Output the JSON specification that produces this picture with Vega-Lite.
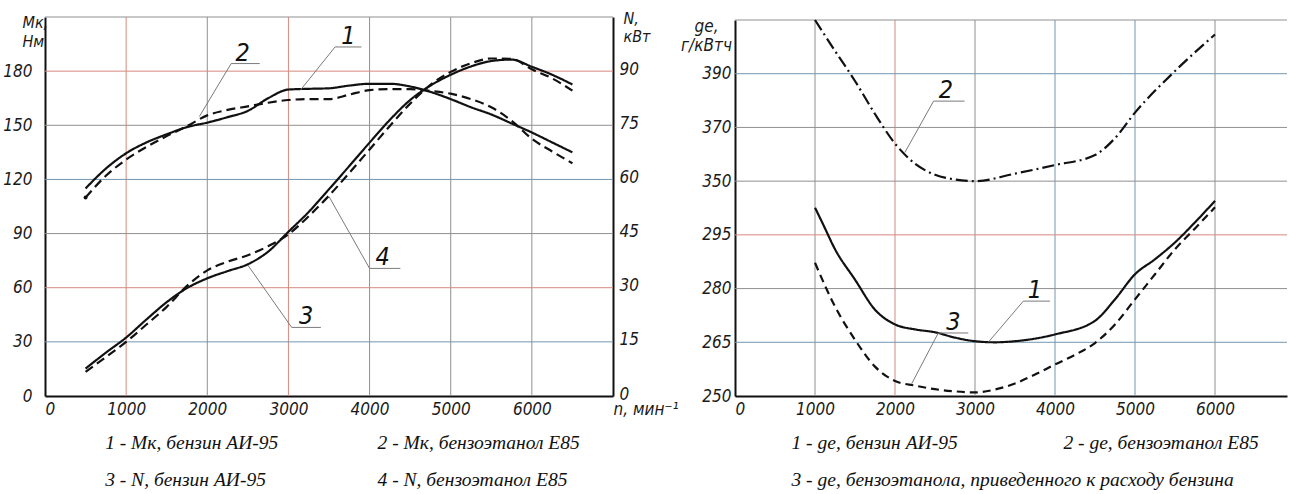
{
  "$schema": "https://vega.github.io/schema/vega-lite/v6.json",
  "background": "white",
  "padding": {"left": 2, "top": 6, "right": 0, "bottom": 0},
  "bounds": "flush",
  "spacing": 122,
  "resolve": {"scale": {"strokeDash": "independent"}},
  "datasets": {
    "mk": [
      {"n":500,"v":115,"c":"1"},{"n":750,"v":126,"c":"1"},{"n":1000,"v":134.5,"c":"1"},{"n":1250,"v":140.5,"c":"1"},{"n":1500,"v":145,"c":"1"},{"n":1750,"v":149,"c":"1"},{"n":2000,"v":151.5,"c":"1"},{"n":2250,"v":154.5,"c":"1"},{"n":2500,"v":158,"c":"1"},{"n":2750,"v":165,"c":"1"},{"n":3000,"v":169.8,"c":"1"},{"n":3250,"v":170.2,"c":"1"},{"n":3500,"v":170.5,"c":"1"},{"n":3750,"v":172,"c":"1"},{"n":4000,"v":173,"c":"1"},{"n":4250,"v":173,"c":"1"},{"n":4500,"v":171.5,"c":"1"},{"n":4750,"v":168.5,"c":"1"},{"n":5000,"v":164.5,"c":"1"},{"n":5250,"v":160,"c":"1"},{"n":5500,"v":156,"c":"1"},{"n":5750,"v":151,"c":"1"},{"n":6000,"v":146,"c":"1"},{"n":6250,"v":140.5,"c":"1"},{"n":6500,"v":135,"c":"1"},
      {"n":500,"v":110,"c":"2"},{"n":750,"v":122,"c":"2"},{"n":1000,"v":131,"c":"2"},{"n":1250,"v":138,"c":"2"},{"n":1500,"v":144,"c":"2"},{"n":1750,"v":149.5,"c":"2"},{"n":2000,"v":155.5,"c":"2"},{"n":2250,"v":158.5,"c":"2"},{"n":2500,"v":160.5,"c":"2"},{"n":2750,"v":162.5,"c":"2"},{"n":3000,"v":164,"c":"2"},{"n":3250,"v":164.5,"c":"2"},{"n":3500,"v":164.5,"c":"2"},{"n":3750,"v":167,"c":"2"},{"n":4000,"v":169.5,"c":"2"},{"n":4250,"v":170,"c":"2"},{"n":4500,"v":170,"c":"2"},{"n":4750,"v":169,"c":"2"},{"n":5000,"v":167.5,"c":"2"},{"n":5250,"v":164.5,"c":"2"},{"n":5500,"v":160,"c":"2"},{"n":5750,"v":152.5,"c":"2"},{"n":6000,"v":142.5,"c":"2"},{"n":6250,"v":135.5,"c":"2"},{"n":6500,"v":129,"c":"2"}
    ],
    "pw": [
      {"n":500,"v":7.6,"c":"3"},{"n":750,"v":12,"c":"3"},{"n":1000,"v":16.2,"c":"3"},{"n":1250,"v":21.2,"c":"3"},{"n":1500,"v":26,"c":"3"},{"n":1750,"v":29.9,"c":"3"},{"n":2000,"v":32.6,"c":"3"},{"n":2250,"v":34.6,"c":"3"},{"n":2500,"v":36.5,"c":"3"},{"n":2750,"v":40,"c":"3"},{"n":3000,"v":45.5,"c":"3"},{"n":3250,"v":51,"c":"3"},{"n":3500,"v":57.3,"c":"3"},{"n":3750,"v":63.7,"c":"3"},{"n":4000,"v":70.2,"c":"3"},{"n":4250,"v":76.5,"c":"3"},{"n":4500,"v":82,"c":"3"},{"n":4750,"v":86,"c":"3"},{"n":5000,"v":89,"c":"3"},{"n":5250,"v":91.3,"c":"3"},{"n":5500,"v":92.8,"c":"3"},{"n":5750,"v":93.2,"c":"3"},{"n":6000,"v":91.2,"c":"3"},{"n":6250,"v":89,"c":"3"},{"n":6500,"v":86.3,"c":"3"},
      {"n":500,"v":6.7,"c":"4"},{"n":750,"v":10.8,"c":"4"},{"n":1000,"v":15,"c":"4"},{"n":1250,"v":19.8,"c":"4"},{"n":1500,"v":24.7,"c":"4"},{"n":1750,"v":30.5,"c":"4"},{"n":2000,"v":34.8,"c":"4"},{"n":2250,"v":37.2,"c":"4"},{"n":2500,"v":39,"c":"4"},{"n":2750,"v":41.5,"c":"4"},{"n":3000,"v":44.8,"c":"4"},{"n":3250,"v":49.8,"c":"4"},{"n":3500,"v":55.5,"c":"4"},{"n":3750,"v":61.8,"c":"4"},{"n":4000,"v":68.3,"c":"4"},{"n":4250,"v":74.8,"c":"4"},{"n":4500,"v":81,"c":"4"},{"n":4750,"v":86.2,"c":"4"},{"n":5000,"v":89.8,"c":"4"},{"n":5250,"v":92.2,"c":"4"},{"n":5500,"v":93.5,"c":"4"},{"n":5750,"v":93.4,"c":"4"},{"n":6000,"v":90.5,"c":"4"},{"n":6250,"v":88,"c":"4"},{"n":6500,"v":84.6,"c":"4"}
    ],
    "ge": [
      {"n":1000,"v":302.6,"c":"g1"},{"n":1100,"v":298,"c":"g1"},{"n":1250,"v":291,"c":"g1"},{"n":1500,"v":282.5,"c":"g1"},{"n":1750,"v":274.1,"c":"g1"},{"n":2000,"v":270,"c":"g1"},{"n":2250,"v":268.6,"c":"g1"},{"n":2500,"v":267.8,"c":"g1"},{"n":2750,"v":266.3,"c":"g1"},{"n":3000,"v":265.3,"c":"g1"},{"n":3250,"v":265,"c":"g1"},{"n":3500,"v":265.3,"c":"g1"},{"n":4000,"v":267.2,"c":"g1"},{"n":4500,"v":271,"c":"g1"},{"n":4750,"v":277,"c":"g1"},{"n":5000,"v":284,"c":"g1"},{"n":5250,"v":288.2,"c":"g1"},{"n":5500,"v":292.9,"c":"g1"},{"n":5750,"v":298.5,"c":"g1"},{"n":6000,"v":304.5,"c":"g1"},
      {"n":1000,"v":410,"c":"g2"},{"n":1250,"v":398.5,"c":"g2"},{"n":1500,"v":387.3,"c":"g2"},{"n":1750,"v":375,"c":"g2"},{"n":2000,"v":364,"c":"g2"},{"n":2250,"v":356.5,"c":"g2"},{"n":2500,"v":352.4,"c":"g2"},{"n":2750,"v":350.6,"c":"g2"},{"n":3000,"v":350,"c":"g2"},{"n":3500,"v":352.8,"c":"g2"},{"n":4000,"v":356,"c":"g2"},{"n":4500,"v":359.7,"c":"g2"},{"n":4750,"v":366,"c":"g2"},{"n":5000,"v":375.5,"c":"g2"},{"n":5500,"v":391,"c":"g2"},{"n":6000,"v":404.6,"c":"g2"},
      {"n":1000,"v":287.2,"c":"g3"},{"n":1250,"v":275,"c":"g3"},{"n":1500,"v":265.7,"c":"g3"},{"n":1750,"v":258.2,"c":"g3"},{"n":2000,"v":254.2,"c":"g3"},{"n":2250,"v":252.9,"c":"g3"},{"n":2500,"v":251.9,"c":"g3"},{"n":2750,"v":251.3,"c":"g3"},{"n":3000,"v":251,"c":"g3"},{"n":3250,"v":251.8,"c":"g3"},{"n":3500,"v":253.5,"c":"g3"},{"n":3750,"v":256,"c":"g3"},{"n":4000,"v":258.8,"c":"g3"},{"n":4250,"v":261.5,"c":"g3"},{"n":4500,"v":264.8,"c":"g3"},{"n":4750,"v":270,"c":"g3"},{"n":5000,"v":277,"c":"g3"},{"n":5250,"v":284,"c":"g3"},{"n":5500,"v":291,"c":"g3"},{"n":5750,"v":296.8,"c":"g3"},{"n":6000,"v":302.7,"c":"g3"}
    ],
    "gxL": [{"n":1000,"k":"r"},{"n":2000,"k":"g"},{"n":3000,"k":"r"},{"n":4000,"k":"g"},{"n":5000,"k":"g"},{"n":6000,"k":"g"}],
    "gyL": [{"v":30,"k":"b"},{"v":60,"k":"r"},{"v":90,"k":"g"},{"v":120,"k":"b"},{"v":150,"k":"g"},{"v":180,"k":"r"},{"v":210,"k":"g"}],
    "gxR": [{"n":1000,"k":"g"},{"n":2000,"k":"r"},{"n":3000,"k":"g"},{"n":4000,"k":"b"},{"n":5000,"k":"b"},{"n":6000,"k":"g"}],
    "gyR": [{"v":265,"k":"b"},{"v":280,"k":"g"},{"v":295,"k":"r"},{"v":350,"k":"g"},{"v":370,"k":"g"},{"v":390,"k":"b"},{"v":410,"k":"g"}],
    "callL": [
      {"n":1903,"v":154.9,"n2":2294,"v2":184.2},{"n":2294,"v":184.2,"n2":2646,"v2":184.2},
      {"n":3150,"v":169.6,"n2":3575,"v2":193.4},{"n":3575,"v":193.4,"n2":3900,"v2":193.4},
      {"n":3500,"v":110.5,"n2":4000,"v2":70.7},{"n":4000,"v":70.7,"n2":4380,"v2":70.7},
      {"n":2500,"v":72.5,"n2":3040,"v2":38},{"n":3040,"v":38,"n2":3400,"v2":38}
    ],
    "numL": [
      {"n":2435,"v":184.2,"t":"2"},{"n":3740,"v":193.4,"t":"1"},{"n":4160,"v":70.7,"t":"4"},{"n":3220,"v":38,"t":"3"}
    ],
    "legL": [
      {"n":741,"v":-26,"t":"1 - Мк, бензин АИ-95"},
      {"n":4098,"v":-26,"t":"2 - Мк, бензоэтанол Е85"},
      {"n":741,"v":-46.5,"t":"3 - N, бензин АИ-95"},
      {"n":4098,"v":-46.5,"t":"4 - N, бензоэтанол Е85"}
    ],
    "callR": [
      {"n":2122,"v":360.6,"n2":2482,"v2":379.8},{"n":2482,"v":379.8,"n2":2869,"v2":379.8},
      {"n":3166,"v":265,"n2":3604,"v2":276.5},{"n":3604,"v":276.5,"n2":3937,"v2":276.5},
      {"n":2208,"v":253.4,"n2":2541,"v2":267.6},{"n":2541,"v":267.6,"n2":2916,"v2":267.6}
    ],
    "numR": [
      {"n":2637,"v":379.8,"t":"2"},{"n":3750,"v":276.5,"t":"1"},{"n":2729,"v":267.6,"t":"3"}
    ],
    "legR": [
      {"n":706,"v":236.9,"t":"1 - gе, бензин АИ-95"},
      {"n":4105,"v":236.9,"t":"2 - gе, бензоэтанол Е85"},
      {"n":706,"v":226.5,"t":"3 - gе, бензоэтанола, приведенного к расходу бензина"}
    ]
  },
  "hconcat": [
    {
      "width": 568,
      "height": 379,
      "layer": [
        {
          "layer": [
            {
              "data": {"name": "gxL"},
              "mark": {"type": "rule", "strokeWidth": 1},
              "encoding": {
                "x": {"field": "n", "type": "quantitative", "title": null, "scale": {"domain": [0, 7000], "nice": false, "zero": false}},
                "color": {"field": "k", "type": "nominal", "scale": {"domain": ["r","b","g"], "range": ["#d58a7e","#7597b0","#909090"]}, "legend": null}
              }
            },
            {
              "data": {"name": "gyL"},
              "mark": {"type": "rule", "strokeWidth": 1},
              "encoding": {
                "y": {"field": "v", "type": "quantitative", "title": ["Мк,", "Нм"], "scale": {"domain": [0, 210], "nice": false, "zero": false}},
                "color": {"field": "k", "type": "nominal", "scale": {"domain": ["r","b","g"], "range": ["#d58a7e","#7597b0","#909090"]}, "legend": null}
              }
            },
            {
              "data": {"name": "mk"},
              "mark": {"type": "line", "interpolate": "monotone", "color": "#111", "strokeWidth": 2.2},
              "encoding": {
                "x": {"field": "n", "type": "quantitative", "title": null, "scale": {"domain": [0, 7000], "nice": false, "zero": false},
                  "axis": {"values": [0,1000,2000,3000,4000,5000,6000,7000], "format": "d",
                    "labelExpr": "datum.value == 7000 ? 'n, мин⁻¹' : datum.label",
                    "labelAlign": {"condition": {"test": "datum.value == 0 || datum.value == 7000", "value": "left"}, "value": "center"},
                    "labelPadding": 5, "grid": false}},
                "y": {"field": "v", "type": "quantitative", "title": ["Мк,", "Нм"], "scale": {"domain": [0, 210], "nice": false, "zero": false},
                  "axis": {"orient": "left", "values": [0,30,60,90,120,150,180,210],
                    "labelExpr": "datum.value == 210 ? '' : datum.label",
                    "labelPadding": 13, "grid": false,
                    "titleX": -23, "titleY": -3, "titleAlign": "left", "titleBaseline": "top", "titleAngle": 0, "titleFontSize": 16, "titleLineHeight": 19}},
                "strokeDash": {"field": "c", "type": "nominal", "scale": {"domain": ["1","2","3","4"], "range": [[1,0],[9,5],[1,0],[9,5]]}, "legend": null}
              }
            },
            {
              "data": {"name": "mk"},
              "transform": [{"filter": "datum.n == 500 && datum.c == '2'"}],
              "mark": {"type": "circle", "size": 16, "color": "#111", "opacity": 1},
              "encoding": {
                "x": {"field": "n", "type": "quantitative", "title": null, "scale": {"domain": [0, 7000], "nice": false, "zero": false}},
                "y": {"field": "v", "type": "quantitative", "title": ["Мк,", "Нм"], "scale": {"domain": [0, 210], "nice": false, "zero": false}}
              }
            },
            {
              "data": {"name": "callL"},
              "mark": {"type": "rule", "color": "#7a7a7a", "strokeWidth": 1},
              "encoding": {
                "x": {"field": "n", "type": "quantitative", "title": null, "scale": {"domain": [0, 7000], "nice": false, "zero": false}},
                "y": {"field": "v", "type": "quantitative", "title": ["Мк,", "Нм"], "scale": {"domain": [0, 210], "nice": false, "zero": false}},
                "x2": {"field": "n2"},
                "y2": {"field": "v2"}
              }
            },
            {
              "data": {"name": "numL"},
              "mark": {"type": "text", "font": "Liberation Sans Narrow, DejaVu Sans Condensed, sans-serif", "fontStyle": "italic", "fontSize": 25, "dy": -3, "baseline": "alphabetic", "align": "center", "color": "#111"},
              "encoding": {
                "x": {"field": "n", "type": "quantitative", "title": null, "scale": {"domain": [0, 7000], "nice": false, "zero": false}},
                "y": {"field": "v", "type": "quantitative", "title": ["Мк,", "Нм"], "scale": {"domain": [0, 210], "nice": false, "zero": false}},
                "text": {"field": "t"}
              }
            },
            {
              "data": {"name": "legL"},
              "mark": {"type": "text", "font": "Liberation Serif, DejaVu Serif, serif", "fontStyle": "italic", "fontSize": 19.5, "baseline": "middle", "align": "left", "color": "#111"},
              "encoding": {
                "x": {"field": "n", "type": "quantitative", "title": null, "scale": {"domain": [0, 7000], "nice": false, "zero": false}},
                "y": {"field": "v", "type": "quantitative", "title": ["Мк,", "Нм"], "scale": {"domain": [0, 210], "nice": false, "zero": false}},
                "text": {"field": "t"}
              }
            }
          ]
        },
        {
          "data": {"name": "pw"},
          "mark": {"type": "line", "interpolate": "monotone", "color": "#111", "strokeWidth": 2.2},
          "encoding": {
            "x": {"field": "n", "type": "quantitative", "title": null, "scale": {"domain": [0, 7000], "nice": false, "zero": false}},
            "y": {"field": "v", "type": "quantitative", "title": ["N,", "кВт"], "scale": {"domain": [0, 105], "nice": false, "zero": false},
              "axis": {"orient": "right", "values": [0,15,30,45,60,75,90,105],
                "labelExpr": "datum.value == 105 ? '' : datum.label",
                "labelPadding": 6, "labelOffset": -2, "grid": false,
                "titleX": 10, "titleY": -7, "titleAlign": "left", "titleBaseline": "top", "titleAngle": 0, "titleFontSize": 16, "titleLineHeight": 18}},
            "strokeDash": {"field": "c", "type": "nominal", "scale": {"domain": ["1","2","3","4"], "range": [[1,0],[9,5],[1,0],[9,5]]}, "legend": null}
          }
        }
      ],
      "resolve": {"scale": {"y": "independent"}}
    },
    {
      "width": 552,
      "height": 379,
      "layer": [
        {
          "data": {"name": "gxR"},
          "mark": {"type": "rule", "strokeWidth": 1},
          "encoding": {
            "x": {"field": "n", "type": "quantitative", "title": null, "scale": {"domain": [0, 6900], "nice": false, "zero": false}},
            "y": {"datum": 250, "type": "quantitative", "title": ["gе,", "г/кВтч"], "scale": {"domain": [250, 307, 346.2, 410], "range": [379, 174.9, 174.36, 3], "nice": false, "zero": false}},
            "y2": {"datum": 410},
            "color": {"field": "k", "type": "nominal", "scale": {"domain": ["r","b","g"], "range": ["#d58a7e","#7597b0","#909090"]}, "legend": null}
          }
        },
        {
          "data": {"name": "gyR"},
          "mark": {"type": "rule", "strokeWidth": 1},
          "encoding": {
            "y": {"field": "v", "type": "quantitative", "title": ["gе,", "г/кВтч"], "scale": {"domain": [250, 307, 346.2, 410], "range": [379, 174.9, 174.36, 3], "nice": false, "zero": false}},
            "color": {"field": "k", "type": "nominal", "scale": {"domain": ["r","b","g"], "range": ["#d58a7e","#7597b0","#909090"]}, "legend": null}
          }
        },
        {
          "data": {"name": "ge"},
          "mark": {"type": "line", "interpolate": "monotone", "color": "#111", "strokeWidth": 2.2},
          "encoding": {
            "x": {"field": "n", "type": "quantitative", "title": null, "scale": {"domain": [0, 6900], "nice": false, "zero": false},
              "axis": {"values": [0,1000,2000,3000,4000,5000,6000], "format": "d",
                "labelAlign": {"condition": {"test": "datum.value == 0", "value": "left"}, "value": "center"},
                "labelPadding": 5, "grid": false}},
            "y": {"field": "v", "type": "quantitative", "title": ["gе,", "г/кВтч"], "scale": {"domain": [250, 307, 346.2, 410], "range": [379, 174.9, 174.36, 3], "nice": false, "zero": false},
              "axis": {"values": [250,265,280,295,350,370,390,410],
                "labelExpr": "datum.value == 410 ? '' : datum.label",
                "labelPadding": 4, "grid": false,
                "titleX": -29, "titleY": 1, "titleAlign": "center", "titleBaseline": "top", "titleAngle": 0, "titleFontSize": 17, "titleLineHeight": 19}},
            "strokeDash": {"field": "c", "type": "nominal", "scale": {"domain": ["g1","g2","g3"], "range": [[1,0],[12,4,2,4],[8,5]]}, "legend": null}
          }
        },
        {
          "data": {"name": "callR"},
          "mark": {"type": "rule", "color": "#7a7a7a", "strokeWidth": 1},
          "encoding": {
            "x": {"field": "n", "type": "quantitative", "title": null, "scale": {"domain": [0, 6900], "nice": false, "zero": false}},
            "y": {"field": "v", "type": "quantitative", "title": ["gе,", "г/кВтч"], "scale": {"domain": [250, 307, 346.2, 410], "range": [379, 174.9, 174.36, 3], "nice": false, "zero": false}},
            "x2": {"field": "n2"},
            "y2": {"field": "v2"}
          }
        },
        {
          "data": {"name": "numR"},
          "mark": {"type": "text", "font": "Liberation Sans Narrow, DejaVu Sans Condensed, sans-serif", "fontStyle": "italic", "fontSize": 25, "dy": -3, "baseline": "alphabetic", "align": "center", "color": "#111"},
          "encoding": {
            "x": {"field": "n", "type": "quantitative", "title": null, "scale": {"domain": [0, 6900], "nice": false, "zero": false}},
            "y": {"field": "v", "type": "quantitative", "title": ["gе,", "г/кВтч"], "scale": {"domain": [250, 307, 346.2, 410], "range": [379, 174.9, 174.36, 3], "nice": false, "zero": false}},
            "text": {"field": "t"}
          }
        },
        {
          "data": {"name": "legR"},
          "mark": {"type": "text", "font": "Liberation Serif, DejaVu Serif, serif", "fontStyle": "italic", "fontSize": 19.5, "baseline": "middle", "align": "left", "color": "#111"},
          "encoding": {
            "x": {"field": "n", "type": "quantitative", "title": null, "scale": {"domain": [0, 6900], "nice": false, "zero": false}},
            "y": {"field": "v", "type": "quantitative", "title": ["gе,", "г/кВтч"], "scale": {"domain": [250, 307, 346.2, 410], "range": [379, 174.9, 174.36, 3], "nice": false, "zero": false}},
            "text": {"field": "t"}
          }
        }
      ]
    }
  ],
  "config": {
    "view": {"stroke": null},
    "axis": {
      "ticks": false,
      "domainColor": "#111",
      "domainWidth": 2,
      "labelFont": "Liberation Sans Narrow, DejaVu Sans Condensed, sans-serif",
      "labelFontStyle": "italic",
      "labelFontSize": 17,
      "labelColor": "#1a1a1a",
      "labelOverlap": false,
      "labelFlush": false,
      "labelBound": false,
      "titleFont": "Liberation Sans Narrow, DejaVu Sans Condensed, sans-serif",
      "titleFontStyle": "italic",
      "titleFontWeight": "normal",
      "titleColor": "#1a1a1a"
    }
  }
}
